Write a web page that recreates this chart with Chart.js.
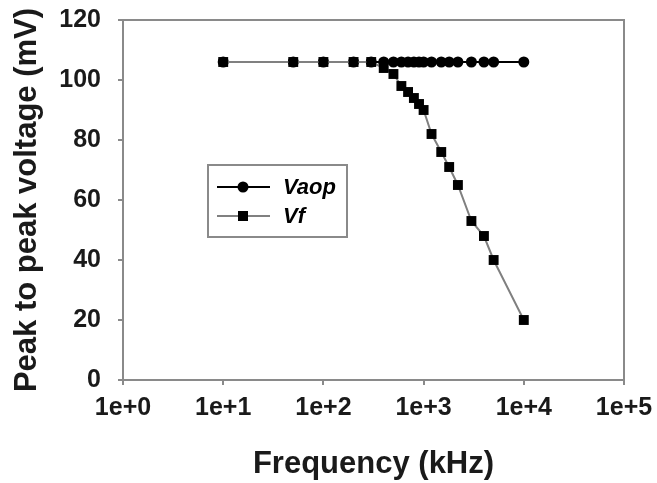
<!DOCTYPE html>
<html>
<head>
<meta charset="utf-8">
<script src="https://cdn.jsdelivr.net/npm/chart.js@4.4.1/dist/chart.umd.min.js"></script>
<style>
  html, body { margin: 0; padding: 0; background: #fff; }
  #wrap { width: 657px; height: 483px; }
</style>
</head>
<body>
<div id="wrap"><canvas id="chart" width="657" height="483"></canvas></div>
<script>
// Frequenze (kHz) e tensioni picco-picco (mV)
const frequencies = [10, 50, 100, 200, 300, 400, 500, 600, 700, 800, 900, 1000, 1200, 1500, 1800, 2200, 3000, 4000, 5000, 10000];
const vaopValues  = [106, 106, 106, 106, 106, 106, 106, 106, 106, 106, 106, 106, 106, 106, 106, 106, 106, 106, 106, 106];
const vfValues    = [106, 106, 106, 106, 106, 104, 102, 98, 96, 94, 92, 90, 82, 76, 71, 65, 53, 48, 40, 20];
const xTickValues = [1, 10, 100, 1000, 10000, 100000];
const xTickLabels = ['1e+0', '1e+1', '1e+2', '1e+3', '1e+4', '1e+5'];
const seriesNames = ['Vaop', 'Vf'];

const FONT = '"Liberation Sans", Arial, sans-serif';
const AXIS_GRAY = '#8a8a8a';
const TEXT = '#1a1a1a';

function toPoints(xs, ys) {
    return xs.map((x, i) => ({ x: x, y: ys[i] }));
}

/**
 * Bordo completo dell'area del grafico
 */
const frameBox = {
    id: 'frameBox',
    afterDatasetsDraw(chart) {
        const a = chart.chartArea;
        const ctx = chart.ctx;
        ctx.save();
        ctx.strokeStyle = AXIS_GRAY;
        ctx.lineWidth = 2;
        ctx.beginPath();
        ctx.moveTo(a.left, a.top);
        ctx.lineTo(a.right, a.top);
        ctx.lineTo(a.right, a.bottom);
        ctx.stroke();
        ctx.restore();
    }
};

/**
 * Legenda disegnata dentro l'area, con riquadro
 */
const boxLegend = {
    id: 'boxLegend',
    afterDraw(chart) {
        const ctx = chart.ctx;
        const left = 208, top = 165, w = 139, h = 72;
        ctx.save();
        ctx.fillStyle = '#fff';
        ctx.fillRect(left, top, w, h);
        ctx.strokeStyle = AXIS_GRAY;
        ctx.lineWidth = 2;
        ctx.strokeRect(left, top, w, h);
        chart.data.datasets.forEach((ds, i) => {
            const y = top + 22 + i * 29;
            ctx.strokeStyle = ds.borderColor;
            ctx.lineWidth = 2;
            ctx.beginPath();
            ctx.moveTo(left + 9, y);
            ctx.lineTo(left + 62, y);
            ctx.stroke();
            ctx.fillStyle = '#000';
            const cx = left + 35;
            if (ds.pointStyle === 'rect') {
                ctx.fillRect(cx - 5, y - 5, 10, 10);
            } else {
                ctx.beginPath();
                ctx.arc(cx, y, 5.5, 0, Math.PI * 2);
                ctx.fill();
            }
            ctx.font = 'italic bold 22px ' + FONT;
            ctx.textBaseline = 'middle';
            ctx.textAlign = 'left';
            ctx.fillText(ds.label, left + 75, y + 1);
        });
        ctx.restore();
    }
};

const ctx = document.getElementById('chart');

new Chart(ctx, {
    type: 'line',
    data: {
        datasets: [{
            label: seriesNames[0],
            data: toPoints(frequencies, vaopValues),
            borderColor: '#000000',
            backgroundColor: '#000000',
            borderWidth: 2,
            pointStyle: 'circle',
            pointRadius: 5.5,
            pointBorderWidth: 0,
            tension: 0,
            order: 1
        }, {
            label: seriesNames[1],
            data: toPoints(frequencies, vfValues),
            borderColor: '#808080',
            backgroundColor: '#000000',
            borderWidth: 2,
            pointStyle: 'rect',
            pointRadius: 7,
            pointBorderWidth: 0,
            tension: 0,
            order: 0
        }]
    },
    options: {
        responsive: false,
        animation: false,
        layout: {
            padding: { left: 0, right: 33, top: 20, bottom: 0 }
        },
        plugins: {
            legend: { display: false },
            tooltip: { enabled: false }
        },
        scales: {
            x: {
                type: 'logarithmic',
                min: 1,
                max: 100000,
                afterBuildTicks: function(scale) {
                    scale.ticks = xTickValues.map(v => ({ value: v }));
                },
                afterFit: function(scale) {
                    scale.height = 103;
                    scale.paddingLeft = 0;
                    scale.paddingRight = 0;
                },
                grid: {
                    drawOnChartArea: false,
                    color: AXIS_GRAY,
                    lineWidth: 2,
                    tickLength: 5
                },
                border: { color: AXIS_GRAY, width: 2 },
                ticks: {
                    autoSkip: false,
                    maxRotation: 0,
                    padding: 8,
                    color: TEXT,
                    font: { family: FONT, size: 25, weight: 'bold' },
                    callback: function(value) {
                        const i = xTickValues.indexOf(value);
                        return i >= 0 ? xTickLabels[i] : '';
                    }
                },
                title: {
                    display: true,
                    text: 'Frequency (kHz)',
                    color: TEXT,
                    padding: { top: 0, bottom: 0 },
                    font: { family: FONT, size: 31, weight: 'bold' }
                }
            },
            y: {
                min: 0,
                max: 120,
                afterFit: function(scale) {
                    scale.width = 123;
                    scale.paddingTop = 0;
                    scale.paddingBottom = 0;
                },
                grid: {
                    drawOnChartArea: false,
                    color: AXIS_GRAY,
                    lineWidth: 2,
                    tickLength: 5
                },
                border: { color: AXIS_GRAY, width: 2 },
                ticks: {
                    stepSize: 20,
                    padding: 17,
                    color: TEXT,
                    font: { family: FONT, size: 25, weight: 'bold' }
                },
                title: {
                    display: true,
                    text: 'Peak to peak voltage (mV)',
                    color: TEXT,
                    padding: { top: 9, bottom: 0 },
                    font: { family: FONT, size: 31, weight: 'bold' }
                }
            }
        }
    },
    plugins: [frameBox, boxLegend]
});
</script>
</body>
</html>
